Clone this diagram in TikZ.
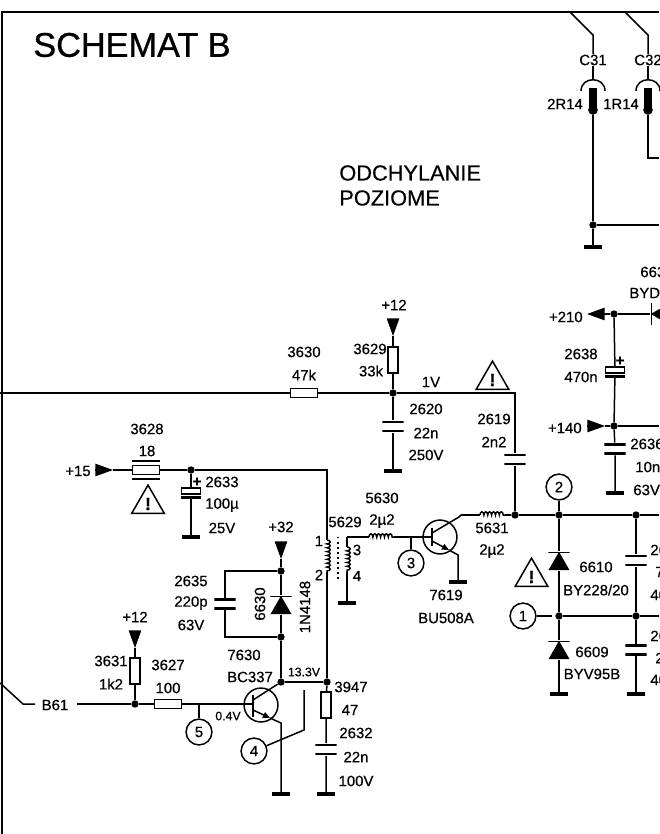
\documentclass[tikz,border=0pt]{standalone}
\usepackage{fontspec}
\setmainfont{Liberation Sans}[FakeBold=0.5]
\newfontfamily\titlefont{Liberation Sans}[FakeBold=0.8]
\usetikzlibrary{arrows.meta,shapes.geometric,decorations.pathmorphing}

\tikzset{
  lbl/.style = {inner sep = 0, font = \fontsize{8.5}{10}\selectfont},
  wire/.style = {line width = 0.85pt},
  buswire/.style = {line width = 1.5pt},
  junction/.style = {circle, fill = black, inner sep = 0, minimum size = 4.2pt},
  resv/.style = {draw, fill = white, inner sep = 0, line width = 0.85pt, minimum width = 5.7pt, minimum height = 15pt},
  resh/.style = {draw, fill = white, inner sep = 0, line width = 0.85pt, minimum width = 15.5pt, minimum height = 5pt},
  gnd/.style = {fill = black, inner sep = 0, minimum width = 10.5pt, minimum height = 1.9pt},
  capv/.style = {inner sep = 0, minimum width = 12pt, minimum height = 6.8pt, path picture = {
      \fill (path picture bounding box.north west) rectangle ([yshift=-1.6pt]path picture bounding box.north east);
      \fill (path picture bounding box.south west) rectangle ([yshift=1.6pt]path picture bounding box.south east);
    }},
  ecap/.style = {inner sep = 0, minimum width = 11.5pt, minimum height = 6.4pt, path picture = {
      \draw[line width = 0.85pt] ([shift={(0.4pt,-0.4pt)}]path picture bounding box.north west) rectangle ([shift={(-0.4pt,2.6pt)}]path picture bounding box.south east);
      \fill (path picture bounding box.south west) rectangle ([yshift=1.4pt]path picture bounding box.south east);
    }},
  diode/.style = {inner sep = 0, minimum width = 12pt, minimum height = 10.5pt, path picture = {
      \fill (path picture bounding box.north west) rectangle ([yshift=-0.9pt]path picture bounding box.north east);
      \fill (path picture bounding box.south west) -- (path picture bounding box.south east) -- (path picture bounding box.north) -- cycle;
    }},
  diodeleft/.style = {inner sep = 0, minimum width = 10.5pt, minimum height = 12pt, path picture = {
      \fill (path picture bounding box.north west) rectangle ([xshift=0.9pt]path picture bounding box.south west);
      \fill (path picture bounding box.north east) -- (path picture bounding box.south east) -- (path picture bounding box.west) -- cycle;
    }},
  trans/.style = {circle, draw, inner sep = 0, line width = 0.85pt, minimum size = 19.3pt},
  testpt/.style = {circle, draw, inner sep = 0, line width = 0.85pt, minimum size = 14.7pt, font = \fontsize{8.5}{10}\selectfont},
  warn/.style = {regular polygon, regular polygon sides = 3, draw, inner sep = 0, line width = 0.85pt, minimum size = 21.5pt, font = \bfseries\fontsize{10}{10}\selectfont},
  supply/.style = {line width = 0.85pt, -{Triangle[length = 10pt, width = 7pt]}},
  coil/.style = {line width = 0.85pt, decorate, decoration = {bumps, segment length = 4.4pt, amplitude = 1.8pt}},
  pinjack/.style = {fill = black, inner sep = 0, minimum width = 4pt, minimum height = 12.5pt},
  pinend/.style = {circle, fill = black, inner sep = 0, minimum size = 5.5pt},
  thinbar/.style = {fill = black, inner sep = 0, minimum width = 16pt, minimum height = 1.1pt}
}

\begin{document}
\begin{tikzpicture}[x = 0.02cm, y = -0.02cm]

  \fill[white] (0,0) rectangle (659,834);
  \useasboundingbox (0,0) rectangle (659,834);

  % Frame and headings
  \coordinate (frameTL) at (2,12);
  \coordinate (frameTR) at (659,12);
  \coordinate (frameBL) at (2,834);
  \draw[line width = 1.6pt] (frameBL) -- (frameTL) -- (frameTR);

  \node[inner sep = 0, anchor = west, font = \titlefont\fontsize{19.5}{22}\selectfont] (title) at (33,45) {SCHEMAT B};
  \node[inner sep = 0, anchor = west, font = \fontsize{12.4}{15}\selectfont] (head1) at (339,173) {ODCHYLANIE};
  \node[inner sep = 0, anchor = west, font = \fontsize{12.4}{15}\selectfont] (head2) at (339,198) {POZIOME};

  % Connectors C31 and C32
  \begin{scope}
    \coordinate (c31a) at (570,12);
    \coordinate (c31b) at (593,35);
    \coordinate (c31c) at (593,46);
    \coordinate (c31d) at (593,80);
    \coordinate (c32a) at (625,12);
    \coordinate (c32b) at (648,35);
    \coordinate (c32c) at (648,46);
    \coordinate (c32d) at (648,80);
    \coordinate (c32e) at (648,158);
    \coordinate (c32f) at (659,158);
    \coordinate (fbOut) at (659,225);

    \node[lbl] (lC31) at (593,60) {C31};
    \node[lbl] (lC32) at (648,60) {C32};
    \node[lbl] (l2R14) at (565,104) {2R14};
    \node[lbl] (l1R14) at (621,104) {1R14};

    \node[pinjack] (p31) at (593,99) {};
    \node[pinend] (e31) at (593,110) {};
    \node[pinjack] (p32) at (648,99) {};
    \node[pinend] (e32) at (648,110) {};
    \node[junction] (jFb) at (593,225) {};
    \node[gnd] (gFb) at (593,247) {};

    \draw[wire] (c31a) -- (c31b) -- (c31c) -- (lC31);
    \draw[wire] (lC31) -- (c31d);
    \draw[wire] (581,91) .. controls (581,76) and (605,76) .. (605,91);
    \draw[wire] (e31) -- (jFb) -- (gFb);
    \draw[wire] (jFb) -- (fbOut);

    \draw[wire] (c32a) -- (c32b) -- (c32c) -- (lC32);
    \draw[wire] (lC32) -- (c32d);
    \draw[wire] (636,91) .. controls (636,76) and (660,76) .. (660,91);
    \draw[buswire] (e32) -- (c32e) -- (c32f);
  \end{scope} % Connectors C31 and C32

  % Supplies +210 and +140
  \begin{scope}
    \node[lbl, anchor = east] (l210) at (583,317) {+210};
    \node[lbl, anchor = east] (l140) at (582,428) {+140};
    \coordinate (a210) at (605,314);
    \coordinate (t210) at (587,314);
    \coordinate (a140) at (587,426);
    \coordinate (t140) at (605,426);
    \coordinate (out140) at (659,426);

    \node[junction] (j210) at (614,314) {};
    \node[junction] (j140) at (614,426) {};
    \node[diodeleft] (d663) at (660,314) {};
    \node[ecap] (c2638) at (615,372) {};
    \node[capv] (c2636) at (615,449) {};
    \node[gnd] (g2636) at (615,493) {};

    \node[lbl, anchor = west] (l663a) at (640,272) {663};
    \node[lbl, anchor = west] (l663b) at (629,293) {BYD};
    \node[lbl] (l2638a) at (581,354) {2638};
    \node[lbl] (l2638b) at (581,377) {470n};
    \node[lbl] (l2638p) at (620,361) {\textbf{+}};
    \node[lbl, anchor = west] (l2636a) at (630,444) {2636};
    \node[lbl, anchor = west] (l2636b) at (635,467) {10n};
    \node[lbl, anchor = west] (l2636c) at (633,490) {63V};

    \draw[supply] (a210) -- (t210);
    \draw[supply] (a140) -- (t140);
    \draw[wire] (a210) -- (j210) -- (d663);
    \draw[wire] (j210) -- (c2638) -- (j140) -- (c2636) -- (g2636);
    \draw[wire] (t140) -- (j140) -- (out140);
  \end{scope} % Supplies +210 and +140

  % Line drive input, signal 1V
  \begin{scope}
    \coordinate (lineIn) at (0,393);
    \coordinate (corner1V) at (515,393);
    \coordinate (a12top) at (393,319);
    \coordinate (t12top) at (393,336);

    \node[resh] (r3630) at (304,393) {};
    \node[resv] (r3629) at (393,360) {};
    \node[junction] (j1V) at (393,393) {};
    \node[capv] (c2620) at (393,426.5) {};
    \node[gnd] (g2620) at (393,471) {};
    \node[capv] (c2619) at (515,459.5) {};
    \node[junction] (jBus) at (515,515) {};

    \node[lbl] (l3630a) at (304,352) {3630};
    \node[lbl] (l3630b) at (304,375) {47k};
    \node[lbl] (l12top) at (394,305) {+12};
    \node[lbl] (l3629a) at (370,349) {3629};
    \node[lbl] (l3629b) at (371,371) {33k};
    \node[lbl] (l1V) at (431,382) {1V};
    \node[lbl] (l2620a) at (426,409) {2620};
    \node[lbl] (l2620b) at (426,433) {22n};
    \node[lbl] (l2620c) at (426,455) {250V};
    \node[lbl] (l2619a) at (494,419) {2619};
    \node[lbl] (l2619b) at (494,442) {2n2};
    \node[warn] (warn1V) at (492.5,380) {!};

    \draw[supply] (a12top) -- (t12top);
    \draw[wire] (t12top) -- (r3629) -- (j1V) -- (c2620) -- (g2620);
    \draw[wire] (lineIn) -- (r3630) -- (j1V) -- (corner1V) -- (c2619) -- (jBus);
  \end{scope} % Line drive input, signal 1V

  % Supply +15 and driver transformer
  \begin{scope}
    \coordinate (a15) at (95,470);
    \coordinate (t15) at (113,470);
    \coordinate (corner15) at (327,470);
    \coordinate (coilA1) at (327,540);
    \coordinate (coilA2) at (327,572);
    \coordinate (coilB0) at (347,537);
    \coordinate (coilB1) at (347,547);
    \coordinate (coilB2) at (347,572);
    \coordinate (dotsA) at (338,537);
    \coordinate (dotsB) at (338,582);

    \node[lbl] (l15) at (78,471) {+15};
    \node[resh] (r3628) at (146,470) {};
    \node[thinbar] (b3628a) at (146,461) {};
    \node[thinbar] (b3628b) at (146,479) {};
    \node[junction] (j15) at (191,470) {};
    \node[ecap] (c2633) at (191,493) {};
    \node[gnd] (g2633) at (191,537) {};
    \node[junction] (jDrv) at (327,682) {};
    \node[gnd] (gCoil) at (347,603) {};

    \node[lbl] (l3628a) at (147,429) {3628};
    \node[lbl] (l3628b) at (147,451) {18};
    \node[warn] (warn15) at (148,504) {!};
    \node[lbl] (l2633p) at (197,482) {\textbf{+}};
    \node[lbl] (l2633a) at (222,482) {2633};
    \node[lbl] (l2633b) at (222,505) {100µ};
    \node[lbl] (l2633c) at (222,528) {25V};
    \node[lbl] (l5629) at (345,522) {5629};
    \node[lbl] (lc1) at (319,541) {1};
    \node[lbl] (lc2) at (319,575) {2};
    \node[lbl] (lc3) at (357,550) {3};
    \node[lbl] (lc4) at (357,576) {4};

    \draw[supply] (a15) -- (t15);
    \draw[wire] (t15) -- (r3628);
    \draw[buswire] (r3628) -- (j15);
    \draw[wire] (j15) -- (corner15) -- (coilA1);
    \draw[wire] (j15) -- (c2633) -- (g2633);
    \draw[coil] (coilA1) -- (coilA2);
    \draw[wire] (coilA2) -- (jDrv);
    \draw[dotted, wire] (dotsA) -- (dotsB);
    \draw[wire] (coilB0) -- (coilB1);
    \draw[coil] (coilB1) -- (coilB2);
    \draw[wire] (coilB2) -- (gCoil);
  \end{scope} % Supply +15 and driver transformer

  % Output transistor and diodes
  \begin{scope}
    \coordinate (l5630a) at (369,537);
    \coordinate (l5630b) at (394,537);
    \coordinate (tap3) at (411,537);
    \coordinate (b7619) at (432,537);
    \coordinate (bar7619a) at (432,528);
    \coordinate (bar7619b) at (432,546);
    \coordinate (c7619a) at (432,533);
    \coordinate (c7619b) at (459,517);
    \coordinate (c7619c) at (461,515);
    \coordinate (e7619a) at (432,541);
    \coordinate (e7619b) at (449,550);
    \coordinate (e7619c) at (458,555);
    \coordinate (l5631a) at (480,515);
    \coordinate (l5631b) at (505,515);
    \coordinate (busOut) at (659,515);
    \coordinate (midOut) at (659,616);
    \coordinate (tp1end) at (552,616);

    \node[trans] (t7619) at (440,537) {};
    \node[gnd] (g7619) at (458,582) {};
    \node[junction] (j2) at (559,515) {};
    \node[junction] (j636a) at (636,515) {};
    \node[junction] (j1) at (559,616) {};
    \node[junction] (j636b) at (636,616) {};
    \node[diode] (d6610) at (559,561) {};
    \node[diode] (d6609) at (559,650) {};
    \node[gnd] (g6609) at (559,694) {};
    \node[capv] (c263a) at (636,560.5) {};
    \node[capv] (c263b) at (636,650) {};
    \node[gnd] (g263b) at (636,694) {};
    \node[testpt] (tp2) at (559,487) {2};
    \node[testpt] (tp1) at (523,616) {1};
    \node[testpt] (tp3) at (411,563) {3};

    \node[lbl] (l5630t) at (382,498) {5630};
    \node[lbl] (l5630v) at (382,521) {2µ2};
    \node[lbl] (l7619a) at (446,595) {7619};
    \node[lbl] (l7619b) at (446,618) {BU508A};
    \node[lbl] (l5631t) at (492,528) {5631};
    \node[lbl] (l5631v) at (492,551) {2µ2};
    \node[lbl] (l6610a) at (596,567) {6610};
    \node[lbl] (l6610b) at (596,590) {BY228/20};
    \node[lbl] (l6609a) at (592,652) {6609};
    \node[lbl] (l6609b) at (592,674) {BYV95B};
    \node[warn] (warnD) at (531.5,577) {!};
    \node[lbl, anchor = west] (l263a1) at (650,550) {26};
    \node[lbl, anchor = west] (l263a2) at (655,572) {7};
    \node[lbl, anchor = west] (l263a3) at (650,595) {40};
    \node[lbl, anchor = west] (l263b1) at (650,636) {26};
    \node[lbl, anchor = west] (l263b2) at (655,658) {2};
    \node[lbl, anchor = west] (l263b3) at (650,680) {40};

    \draw[wire] (coilB0) -- (l5630a);
    \draw[coil] (l5630a) -- (l5630b);
    \draw[wire] (l5630b) -- (b7619);
    \draw[wire] (tap3) -- (tp3);
    \draw[line width = 1.5pt] (bar7619a) -- (bar7619b);
    \draw[wire] (c7619a) -- (c7619b) -- (c7619c);
    \draw[wire, -{Triangle[length = 4pt, width = 3.5pt]}] (e7619a) -- (e7619b);
    \draw[wire] (e7619b) -- (e7619c) -- (g7619);
    \draw[buswire] (c7619c) -- (l5631a);
    \draw[coil] (l5631a) -- (l5631b);
    \draw[buswire] (l5631b) -- (jBus) -- (j2) -- (j636a) -- (busOut);
    \draw[wire] (tp2) -- (j2);
    \draw[buswire] (j2) -- (d6610) -- (j1);
    \draw[wire] (j1) -- (d6609) -- (g6609);
    \draw[wire] (tp1) -- (tp1end);
    \draw[buswire] (j1) -- (j636b) -- (midOut);
    \draw[wire] (j636a) -- (c263a) -- (j636b) -- (c263b) -- (g263b);
  \end{scope} % Output transistor and diodes

  % Driver transistor 7630
  \begin{scope}
    \coordinate (a32) at (281,543);
    \coordinate (t32) at (281,559);
    \coordinate (cnr2635a) at (225,571);
    \coordinate (cnr2635b) at (225,637);
    \coordinate (bar7630a) at (253,695);
    \coordinate (bar7630b) at (253,717);
    \coordinate (b7630) at (253,704);
    \coordinate (c7630a) at (253,700);
    \coordinate (e7630a) at (253,710);
    \coordinate (e7630b) at (270,718);
    \coordinate (e7630c) at (281,723);
    \coordinate (tap5) at (199,704);
    \coordinate (lead4a) at (304,690);
    \coordinate (lead4b) at (304,730);
    \coordinate (b61a) at (0,683);
    \coordinate (b61b) at (23,704);
    \coordinate (b61c) at (35,704);
    \coordinate (b61d) at (77,704);
    \coordinate (a12low) at (135,632);
    \coordinate (t12low) at (135,648);

    \node[trans] (t7630) at (261,705) {};
    \node[junction] (jC) at (281,682) {};
    \node[junction] (j2635a) at (281,571) {};
    \node[junction] (j2635b) at (281,637) {};
    \node[diode] (d6630) at (281,605) {};
    \node[capv] (c2635) at (225,604) {};
    \node[gnd] (g7630) at (281,794) {};
    \node[resv] (r3947) at (326,705) {};
    \node[capv] (c2632) at (326,749.5) {};
    \node[gnd] (g2632) at (326,794) {};
    \node[resv] (r3631) at (135,671) {};
    \node[resh] (r3627) at (168,704) {};
    \node[junction] (jB61) at (135,704) {};
    \node[testpt] (tp5) at (199,732) {5};
    \node[testpt] (tp4) at (254,751) {4};

    \node[lbl] (l32) at (281,527) {+32};
    \node[lbl] (l2635a) at (191,581) {2635};
    \node[lbl] (l2635b) at (191,603) {220p};
    \node[lbl] (l2635c) at (191,625) {63V};
    \node[lbl, rotate = 90] (l6630) at (260,604) {6630};
    \node[lbl, rotate = 90] (l1N4148) at (305,607) {1N4148};
    \node[lbl] (l7630a) at (244,655) {7630};
    \node[lbl] (l7630b) at (250,677) {BC337};
    \node[inner sep = 0, font = \fontsize{7}{8}\selectfont] (l133) at (304,672) {13.3V};
    \node[inner sep = 0, font = \fontsize{7}{8}\selectfont] (l04) at (228,716) {0.4V};
    \node[lbl] (l3947a) at (351,687) {3947};
    \node[lbl] (l3947b) at (350,710) {47};
    \node[lbl] (l2632a) at (356,733) {2632};
    \node[lbl] (l2632b) at (356,757) {22n};
    \node[lbl] (l2632c) at (356,781) {100V};
    \node[lbl] (l12low) at (135,617) {+12};
    \node[lbl] (l3631a) at (111,661) {3631};
    \node[lbl] (l3631b) at (111,684) {1k2};
    \node[lbl] (l3627a) at (168,665) {3627};
    \node[lbl] (l3627b) at (168,688) {100};
    \node[lbl] (lB61) at (55,705) {B61};

    \draw[supply] (a32) -- (t32);
    \draw[wire] (t32) -- (j2635a);
    \draw[wire] (j2635a) -- (d6630) -- (j2635b);
    \draw[wire] (j2635a) -- (cnr2635a) -- (c2635) -- (cnr2635b) -- (j2635b);
    \draw[wire] (j2635b) -- (jC);
    \draw[buswire] (jC) -- (jDrv);
    \draw[wire] (jDrv) -- (r3947) -- (c2632) -- (g2632);
    \draw[line width = 1.5pt] (bar7630a) -- (bar7630b);
    \draw[wire] (c7630a) -- (jC);
    \draw[wire, -{Triangle[length = 4pt, width = 3.5pt]}] (e7630a) -- (e7630b);
    \draw[wire] (e7630b) -- (e7630c) -- (g7630);
    \draw[wire] (b61a) -- (b61b) -- (b61c);
    \draw[wire] (b61d) -- (jB61) -- (r3627) -- (b7630);
    \draw[supply] (a12low) -- (t12low);
    \draw[wire] (t12low) -- (r3631) -- (jB61);
    \draw[wire] (tap5) -- (tp5);
    \draw[wire] (lead4a) -- (lead4b) -- (tp4);
  \end{scope} % Driver transistor 7630

\end{tikzpicture}
\end{document}
